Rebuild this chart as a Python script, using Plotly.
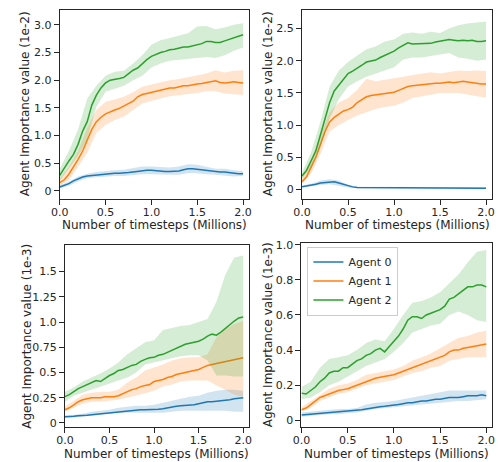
import plotly.graph_objects as go

# Timesteps in millions: dense grid for mean curves, coarse grid for spread bands
t_mean = [round(i * 0.05, 2) for i in range(41)]
t_band = [round(i * 0.1, 1) for i in range(21)]

agents = ["Agent 0", "Agent 1", "Agent 2"]
line_colors = ["#1f77b4", "#ff7f0e", "#2ca02c"]
fill_colors = ["rgba(31,119,180,0.2)", "rgba(255,127,14,0.2)", "rgba(44,160,44,0.2)"]

# ---- Panel 1 (1e-2) ----
p1_a0_mean = [0.07, 0.1, 0.13, 0.18, 0.22, 0.25, 0.27, 0.28, 0.29, 0.3, 0.31, 0.31, 0.32, 0.32, 0.32, 0.33, 0.34, 0.35, 0.37, 0.37, 0.37,
              0.36, 0.36, 0.35, 0.35, 0.35, 0.36, 0.38, 0.4, 0.4, 0.39, 0.38, 0.36, 0.35, 0.34, 0.34, 0.34, 0.33, 0.31, 0.31, 0.31]
p1_a0_up = [0.1, 0.17, 0.26, 0.31, 0.34, 0.36, 0.37, 0.38, 0.41, 0.44, 0.44, 0.43, 0.42, 0.44, 0.48, 0.47, 0.43, 0.4, 0.4, 0.37, 0.36]
p1_a0_lo = [0.04, 0.09, 0.17, 0.23, 0.24, 0.26, 0.27, 0.27, 0.28, 0.3, 0.3, 0.3, 0.29, 0.29, 0.32, 0.32, 0.3, 0.29, 0.28, 0.26, 0.27]
p1_a1_mean = [0.15, 0.2, 0.3, 0.43, 0.57, 0.72, 0.92, 1.11, 1.25, 1.33, 1.39, 1.43, 1.46, 1.49, 1.53, 1.58, 1.62, 1.7, 1.74, 1.76, 1.78,
              1.8, 1.82, 1.84, 1.86, 1.86, 1.88, 1.9, 1.9, 1.92, 1.93, 1.94, 1.96, 1.98, 1.99, 1.96, 1.95, 1.96, 1.97, 1.96, 1.95]
p1_a1_up = [0.22, 0.43, 0.72, 1.14, 1.46, 1.61, 1.65, 1.7, 1.78, 1.88, 1.92, 1.96, 2.0, 2.02, 2.05, 2.08, 2.12, 2.18, 2.14, 2.17, 2.18]
p1_a1_lo = [0.1, 0.19, 0.43, 0.69, 1.05, 1.19, 1.28, 1.34, 1.46, 1.58, 1.63, 1.67, 1.71, 1.73, 1.75, 1.77, 1.8, 1.8, 1.76, 1.75, 1.73]
p1_a2_mean = [0.28, 0.42, 0.54, 0.66, 0.84, 1.08, 1.25, 1.55, 1.73, 1.86, 1.95, 2.0, 2.01, 2.03, 2.05, 2.12, 2.18, 2.22, 2.3, 2.37, 2.43,
              2.47, 2.5, 2.52, 2.55, 2.56, 2.58, 2.6, 2.6, 2.62, 2.63, 2.66, 2.7, 2.7, 2.68, 2.68, 2.71, 2.74, 2.76, 2.79, 2.82]
p1_a2_up = [0.4, 0.72, 1.11, 1.67, 1.9, 2.08, 2.15, 2.17, 2.3, 2.45, 2.64, 2.72, 2.76, 2.8, 2.85, 2.97, 2.98, 2.92, 2.95, 3.0, 3.03]
p1_a2_lo = [0.18, 0.4, 0.63, 0.93, 1.52, 1.79, 1.85, 1.9, 2.0, 2.08, 2.23, 2.3, 2.35, 2.37, 2.38, 2.4, 2.42, 2.4, 2.45, 2.53, 2.59]

# ---- Panel 2 (1e-2) ----
p2_a0_mean = [0.04, 0.05, 0.07, 0.08, 0.1, 0.11, 0.12, 0.12, 0.1, 0.08, 0.05, 0.04, 0.03, 0.03, 0.03, 0.03, 0.03, 0.03, 0.03, 0.03, 0.03,
              0.03, 0.03, 0.03, 0.03, 0.03, 0.03, 0.03, 0.03, 0.02, 0.02, 0.02, 0.02, 0.02, 0.02, 0.02, 0.02, 0.02, 0.02, 0.02, 0.02]
p2_a0_up = [0.06, 0.09, 0.14, 0.16, 0.14, 0.07, 0.04, 0.04, 0.04, 0.04, 0.04, 0.04, 0.04, 0.04, 0.04, 0.04, 0.035, 0.035, 0.035, 0.035, 0.035]
p2_a0_lo = [0.03, 0.05, 0.07, 0.08, 0.06, 0.03, 0.02, 0.02, 0.02, 0.02, 0.02, 0.02, 0.02, 0.02, 0.02, 0.015, 0.015, 0.015, 0.015, 0.015, 0.015]
p2_a1_mean = [0.12, 0.2, 0.35, 0.5, 0.7, 0.9, 1.05, 1.12, 1.17, 1.22, 1.24, 1.28, 1.35, 1.4, 1.44, 1.46, 1.47, 1.48, 1.48, 1.5, 1.51,
              1.54, 1.57, 1.6, 1.61, 1.62, 1.63, 1.63, 1.64, 1.65, 1.65, 1.66, 1.67, 1.66, 1.67, 1.68, 1.67, 1.66, 1.64, 1.64, 1.64]
p2_a1_up = [0.17, 0.45, 0.85, 1.2, 1.35, 1.42, 1.55, 1.72, 1.68, 1.7, 1.72, 1.75, 1.78, 1.8, 1.82, 1.8, 1.83, 1.85, 1.84, 1.85, 1.84]
p2_a1_lo = [0.08, 0.25, 0.55, 0.9, 1.0, 1.08, 1.15, 1.2, 1.25, 1.28, 1.3, 1.35, 1.42, 1.45, 1.47, 1.5, 1.5, 1.5, 1.48, 1.45, 1.43]
p2_a2_mean = [0.21, 0.3, 0.45, 0.6, 0.85, 1.1, 1.35, 1.53, 1.62, 1.72, 1.8, 1.84, 1.88, 1.93, 1.98, 1.99, 2.01, 2.05, 2.08, 2.12, 2.15,
              2.2, 2.24, 2.28, 2.26, 2.26, 2.26, 2.27, 2.27, 2.29, 2.3, 2.32, 2.33, 2.32, 2.31, 2.32, 2.31, 2.32, 2.3, 2.3, 2.31]
p2_a2_up = [0.26, 0.58, 1.05, 1.6, 1.85, 1.98, 2.08, 2.18, 2.22, 2.3, 2.33, 2.42, 2.44, 2.42, 2.45, 2.43, 2.5, 2.55, 2.58, 2.6, 2.61]
p2_a2_lo = [0.16, 0.35, 0.65, 1.1, 1.4, 1.6, 1.68, 1.75, 1.8, 1.85, 1.9, 2.02, 2.05, 2.05, 2.08, 2.1, 2.12, 2.05, 2.03, 2.0, 2.02]

# ---- Panel 3 (1e-3) ----
p3_a0_mean = [0.06, 0.06, 0.065, 0.07, 0.07, 0.075, 0.08, 0.085, 0.09, 0.095, 0.1, 0.105, 0.11, 0.115, 0.12, 0.125, 0.13, 0.13, 0.13, 0.13, 0.13,
              0.135, 0.14, 0.15, 0.16, 0.165, 0.17, 0.172, 0.175, 0.18, 0.19, 0.2, 0.21, 0.21, 0.215, 0.22, 0.22, 0.23, 0.24, 0.245, 0.25]
p3_a0_up = [0.07, 0.08, 0.09, 0.11, 0.12, 0.13, 0.15, 0.16, 0.17, 0.17, 0.18, 0.2, 0.22, 0.24, 0.26, 0.27, 0.3, 0.32, 0.33, 0.33, 0.32]
p3_a0_lo = [0.05, 0.055, 0.06, 0.07, 0.08, 0.09, 0.1, 0.1, 0.1, 0.1, 0.1, 0.1, 0.11, 0.12, 0.12, 0.12, 0.12, 0.12, 0.12, 0.11, 0.11]
p3_a1_mean = [0.13, 0.15, 0.18, 0.21, 0.23, 0.24, 0.25, 0.25, 0.25, 0.26, 0.26, 0.26, 0.27, 0.29, 0.31, 0.33, 0.34, 0.36, 0.37, 0.38, 0.41,
              0.42, 0.43, 0.45, 0.46, 0.48, 0.49, 0.5, 0.51, 0.52, 0.53, 0.55, 0.57, 0.58, 0.59, 0.6, 0.61, 0.62, 0.63, 0.64, 0.645]
p3_a1_up = [0.16, 0.22, 0.28, 0.3, 0.31, 0.31, 0.33, 0.4, 0.45, 0.52, 0.55, 0.58, 0.62, 0.64, 0.65, 0.65, 0.68, 0.85, 0.93, 0.98, 1.01]
p3_a1_lo = [0.11, 0.15, 0.19, 0.21, 0.21, 0.22, 0.23, 0.25, 0.27, 0.295, 0.32, 0.36, 0.38, 0.41, 0.42, 0.42, 0.42, 0.37, 0.33, 0.28, 0.26]
p3_a2_mean = [0.26, 0.28, 0.31, 0.34, 0.36, 0.38, 0.4, 0.42, 0.41, 0.44, 0.47, 0.49, 0.52, 0.53, 0.55, 0.57, 0.58, 0.61, 0.63, 0.645, 0.65,
              0.67, 0.68, 0.7, 0.72, 0.74, 0.76, 0.78, 0.79, 0.8, 0.81, 0.83, 0.86, 0.88, 0.87, 0.9, 0.94, 0.98, 1.01, 1.04, 1.05]
p3_a2_up = [0.31, 0.35, 0.41, 0.45, 0.49, 0.54, 0.6, 0.68, 0.74, 0.8, 0.82, 0.92, 0.94, 0.96, 0.97, 1.0, 1.03, 1.2, 1.47, 1.64, 1.66]
p3_a2_lo = [0.21, 0.27, 0.3, 0.33, 0.36, 0.39, 0.42, 0.45, 0.5, 0.58, 0.6, 0.62, 0.64, 0.66, 0.67, 0.67, 0.62, 0.47, 0.47, 0.46, 0.46]

# ---- Panel 4 (1e-3) ----
p4_a0_mean = [0.03, 0.032, 0.035, 0.037, 0.04, 0.042, 0.045, 0.047, 0.05, 0.05, 0.05, 0.052, 0.055, 0.06, 0.065, 0.07, 0.075, 0.078, 0.08, 0.082, 0.085,
              0.09, 0.095, 0.1, 0.1, 0.105, 0.11, 0.11, 0.115, 0.12, 0.12, 0.125, 0.13, 0.13, 0.13, 0.135, 0.14, 0.14, 0.14, 0.145, 0.14]
p4_a0_up = [0.045, 0.05, 0.055, 0.06, 0.065, 0.065, 0.07, 0.09, 0.1, 0.105, 0.11, 0.12, 0.13, 0.14, 0.15, 0.16, 0.17, 0.17, 0.17, 0.17, 0.17]
p4_a0_lo = [0.02, 0.025, 0.03, 0.035, 0.035, 0.04, 0.045, 0.055, 0.065, 0.07, 0.075, 0.08, 0.085, 0.09, 0.095, 0.1, 0.105, 0.11, 0.11, 0.115, 0.12]
p4_a1_mean = [0.06, 0.07, 0.09, 0.11, 0.13, 0.14, 0.15, 0.16, 0.17, 0.175, 0.18, 0.19, 0.2, 0.21, 0.22, 0.23, 0.24, 0.245, 0.25, 0.255, 0.26,
              0.27, 0.28, 0.29, 0.3, 0.31, 0.32, 0.33, 0.34, 0.35, 0.36, 0.37, 0.39, 0.4, 0.4, 0.41, 0.415, 0.42, 0.425, 0.43, 0.435]
p4_a1_up = [0.075, 0.11, 0.15, 0.18, 0.2, 0.21, 0.23, 0.26, 0.27, 0.28, 0.29, 0.31, 0.34, 0.36, 0.38, 0.41, 0.44, 0.47, 0.48, 0.5, 0.51]
p4_a1_lo = [0.05, 0.07, 0.11, 0.13, 0.15, 0.16, 0.18, 0.2, 0.21, 0.22, 0.23, 0.25, 0.27, 0.28, 0.3, 0.31, 0.34, 0.35, 0.36, 0.36, 0.36]
p4_a2_mean = [0.155, 0.15, 0.17, 0.19, 0.22, 0.24, 0.27, 0.28, 0.28, 0.3, 0.3, 0.32, 0.34, 0.35, 0.37, 0.38, 0.4, 0.41, 0.39, 0.42, 0.45,
              0.48, 0.52, 0.57, 0.59, 0.59, 0.58, 0.6, 0.61, 0.62, 0.63, 0.65, 0.69, 0.7, 0.72, 0.74, 0.76, 0.76, 0.77, 0.77, 0.76]
p4_a2_up = [0.19, 0.22, 0.3, 0.35, 0.36, 0.37, 0.4, 0.44, 0.46, 0.45, 0.52, 0.6, 0.67, 0.68, 0.7, 0.73, 0.78, 0.83, 0.9, 0.96, 0.97]
p4_a2_lo = [0.12, 0.13, 0.16, 0.2, 0.22, 0.25, 0.28, 0.31, 0.33, 0.35, 0.39, 0.44, 0.5, 0.52, 0.54, 0.55, 0.6, 0.62, 0.6, 0.57, 0.56]

x_ticks = [0.0, 0.5, 1.0, 1.5, 2.0]
x_ticklabels = ["0.0", "0.5", "1.0", "1.5", "2.0"]
p1_yticks = [0, 0.5, 1.0, 1.5, 2.0, 2.5, 3.0]
p1_yticklabels = ["0", "0.5", "1.0", "1.5", "2.0", "2.5", "3.0"]
p2_yticks = [0, 0.5, 1.0, 1.5, 2.0, 2.5]
p2_yticklabels = ["0", "0.5", "1.0", "1.5", "2.0", "2.5"]
p3_yticks = [0, 0.25, 0.5, 0.75, 1.0, 1.25, 1.5]
p3_yticklabels = ["0", "0.25", "0.5", "0.75", "1.0", "1.25", "1.5"]
p4_yticks = [0, 0.2, 0.4, 0.6, 0.8, 1.0]
p4_yticklabels = ["0", "0.2", "0.4", "0.6", "0.8", "1.0"]

panels = [
    dict(means=[p1_a0_mean, p1_a1_mean, p1_a2_mean], ups=[p1_a0_up, p1_a1_up, p1_a2_up], los=[p1_a0_lo, p1_a1_lo, p1_a2_lo],
         yticks=p1_yticks, ylabels=p1_yticklabels, yrange=[-0.14, 3.27], ytitle="Agent Importance value (1e-2)",
         xdom=[0.1044, 0.494], ydom=[0.5736, 0.9892], ytitle_x=0.033, xtitle_y=0.5165),
    dict(means=[p2_a0_mean, p2_a1_mean, p2_a2_mean], ups=[p2_a0_up, p2_a1_up, p2_a2_up], los=[p2_a0_lo, p2_a1_lo, p2_a2_lo],
         yticks=p2_yticks, ylabels=p2_yticklabels, yrange=[-0.142, 2.79], ytitle="Agent Importance value (1e-2)",
         xdom=[0.603, 0.994], ydom=[0.5736, 0.9892], ytitle_x=0.533, xtitle_y=0.5165),
    dict(means=[p3_a0_mean, p3_a1_mean, p3_a2_mean], ups=[p3_a0_up, p3_a1_up, p3_a2_up], los=[p3_a0_lo, p3_a1_lo, p3_a2_lo],
         yticks=p3_yticks, ylabels=p3_yticklabels, yrange=[-0.039, 1.766], ytitle="Agent Importance value (1e-3)",
         xdom=[0.115, 0.494], ydom=[0.0708, 0.4719], ytitle_x=0.037, xtitle_y=0.011),
    dict(means=[p4_a0_mean, p4_a1_mean, p4_a2_mean], ups=[p4_a0_up, p4_a1_up, p4_a2_up], los=[p4_a0_lo, p4_a1_lo, p4_a2_lo],
         yticks=p4_yticks, ylabels=p4_yticklabels, yrange=[-0.037, 1.007], ytitle="Agent Importance value (1e-3)",
         xdom=[0.6018, 0.9946], ydom=[0.0708, 0.4747], ytitle_x=0.533, xtitle_y=0.011),
]

ink = "#262626"
font_family = "DejaVu Sans"
fig = go.Figure()
annotations = []
layout_axes = {}

for k, p in enumerate(panels):
    n = k + 1
    xa = "x" if n == 1 else f"x{n}"
    ya = "y" if n == 1 else f"y{n}"
    for i in range(3):
        band_x = t_band + t_band[::-1]
        band_y = p["ups"][i] + p["los"][i][::-1]
        fig.add_trace(go.Scatter(x=band_x, y=band_y, fill="toself", fillcolor=fill_colors[i],
                                 line=dict(width=0), mode="lines", hoverinfo="skip",
                                 showlegend=False, xaxis=xa, yaxis=ya))
        fig.add_trace(go.Scatter(x=t_mean, y=p["means"][i], mode="lines", name=agents[i],
                                 line=dict(color=line_colors[i], width=1.5),
                                 showlegend=(n == 4), xaxis=xa, yaxis=ya))
    axis_common = dict(showline=True, linecolor=ink, linewidth=1, mirror=True, showgrid=False, zeroline=False,
                       ticks="outside", ticklen=5, tickwidth=1, tickcolor=ink,
                       tickfont=dict(family=font_family, size=11, color=ink))
    layout_axes["xaxis" if n == 1 else f"xaxis{n}"] = dict(
        axis_common, domain=p["xdom"], range=[0, 2.066], anchor=ya,
        tickvals=x_ticks, ticktext=x_ticklabels, ticklabelstandoff=-2)
    layout_axes["yaxis" if n == 1 else f"yaxis{n}"] = dict(
        axis_common, domain=p["ydom"], range=p["yrange"], anchor=xa,
        tickvals=p["yticks"], ticktext=p["ylabels"])
    annotations.append(dict(text=p["ytitle"], x=p["ytitle_x"], y=(p["ydom"][0] + p["ydom"][1]) / 2,
                            xref="paper", yref="paper", textangle=-90, showarrow=False,
                            xanchor="center", yanchor="middle",
                            font=dict(family=font_family, size=12, color=ink)))
    annotations.append(dict(text="Number of timesteps (Millions)", x=(p["xdom"][0] + p["xdom"][1]) / 2,
                            y=p["xtitle_y"], xref="paper", yref="paper", showarrow=False,
                            xanchor="center", yanchor="middle",
                            font=dict(family=font_family, size=12, color=ink)))

fig.update_layout(
    width=498, height=462,
    margin=dict(l=0, r=0, t=0, b=0),
    paper_bgcolor="white", plot_bgcolor="white",
    font=dict(family=font_family, color=ink),
    annotations=annotations,
    legend=dict(x=0.614, y=0.468, xanchor="left", yanchor="top",
                bgcolor="rgba(255,255,255,0.8)", bordercolor="#cccccc", borderwidth=1,
                font=dict(family=font_family, size=11, color=ink),
                itemwidth=30, tracegroupgap=0),
    **layout_axes,
)

fig.write_html("out.html")
